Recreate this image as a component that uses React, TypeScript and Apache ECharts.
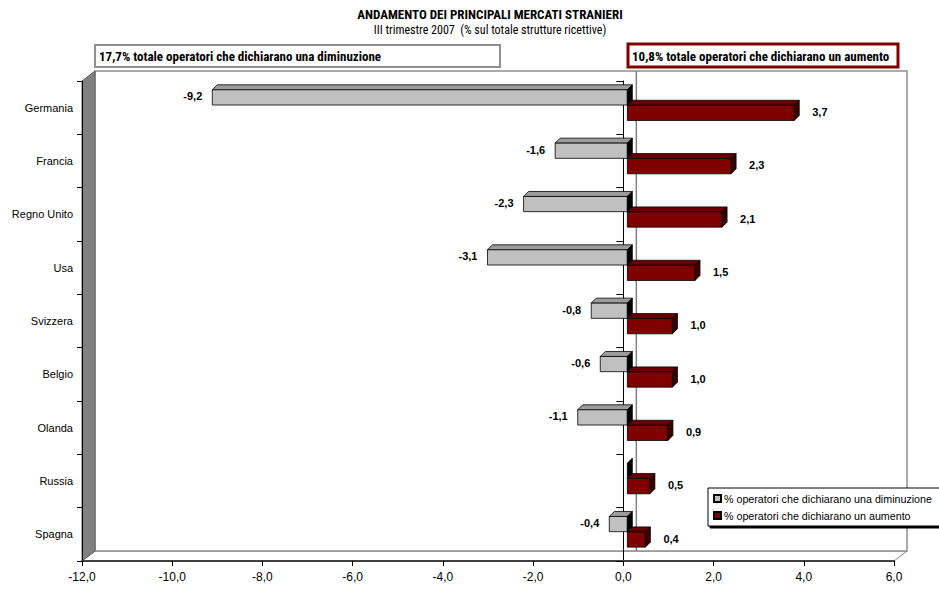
import React, { useEffect, useRef } from 'react';
import * as echarts from 'echarts';

const categories = ['Germania', 'Francia', 'Regno Unito', 'Usa', 'Svizzera', 'Belgio', 'Olanda', 'Russia', 'Spagna'];
const decreaseValues = [-9.2, -1.6, -2.3, -3.1, -0.8, -0.6, -1.1, 0, -0.4];
const increaseValues = [3.7, 2.3, 2.1, 1.5, 1.0, 1.0, 0.9, 0.5, 0.4];
const xMin = -12;
const xMax = 6;
const xInterval = 2;

const titleText = 'ANDAMENTO DEI PRINCIPALI MERCATI STRANIERI';
const subtitleText = 'III trimestre 2007  (% sul totale strutture ricettive)';
const decreaseBoxText = '17,7% totale operatori che dichiarano una diminuzione';
const increaseBoxText = '10,8% totale operatori che dichiarano un aumento';
const decreaseName = '% operatori che dichiarano una diminuzione';
const increaseName = '% operatori che dichiarano un aumento';

const NARROW = 'Liberation Sans Narrow, Arial Narrow, Roboto Condensed, sans-serif';
const SANS = 'Liberation Sans, Arial, sans-serif';

const fmt = (v: number) => v.toFixed(1).replace('.', ',');

const BAR_D = 5; // bar depth
const WALL_DX = 13;
const WALL_DY = -10;

function makeRender(kind: 'dec' | 'inc') {
  const colors =
    kind === 'dec'
      ? { front: '#C0C0C0', top: '#9C9C9C', side: '#000000' }
      : { front: '#800000', top: '#660000', side: '#3A0000' };
  return (params: any, api: any) => {
    const idx = api.value(0);
    const v = api.value(1);
    const zero = api.coord([0, idx]);
    const end = api.coord([v, idx]);
    const band = api.size([0, 1])[1];
    const h = band * 0.285;
    const shift = 4;
    const x0 = zero[0] + shift;
    const x1 = end[0] + shift;
    const c = zero[1];
    const top = kind === 'dec' ? c - band * 0.335 : c - band * 0.045;
    const left = Math.min(x0, x1);
    const right = Math.max(x0, x1);
    const w = right - left;
    const d = BAR_D;
    const children: any[] = [];
    if (w > 0) {
      children.push({
        type: 'polygon',
        shape: { points: [[left, top], [left + d, top - d], [right + d, top - d], [right, top]] },
        style: { fill: colors.top, stroke: '#000', lineWidth: 0.8 },
      });
      children.push({
        type: 'rect',
        shape: { x: left, y: top, width: w, height: h },
        style: { fill: colors.front, stroke: '#000', lineWidth: 0.8 },
      });
    }
    children.push({
      type: 'polygon',
      shape: { points: [[right, top], [right + d, top - d], [right + d, top + h - d], [right, top + h]] },
      style: { fill: colors.side, stroke: '#000', lineWidth: 0.8 },
    });
    if (v !== 0) {
      const isDec = kind === 'dec';
      children.push({
        type: 'text',
        style: {
          x: isDec ? left - 10 : right + d + 13,
          y: top + h / 2 - 1,
          text: fmt(v),
          fill: '#000',
          fontFamily: SANS,
          fontSize: 11,
          fontWeight: 'bold',
          align: isDec ? 'right' : 'left',
          verticalAlign: 'middle',
          textAlign: isDec ? 'right' : 'left',
          textVerticalAlign: 'middle',
        },
      });
    }
    return { type: 'group', children };
  };
}

function txt(x: number, y: number, text: string, size: number, bold: boolean, family: string, align: string) {
  return {
    type: 'text',
    z: 11,
    style: {
      x,
      y,
      text,
      fill: '#000',
      fontFamily: family,
      fontSize: size,
      fontWeight: bold ? 'bold' : 'normal',
      align,
      verticalAlign: 'middle',
      textAlign: align,
      textVerticalAlign: 'middle',
    },
  };
}

export default function App() {
  const ref = useRef<HTMLDivElement>(null);
  useEffect(() => {
    document.body.style.margin = '0';
    if (!ref.current) return;
    const chart = echarts.init(ref.current, undefined, { renderer: 'svg' });
    const option: any = {
      animation: false,
      backgroundColor: '#fff',
      grid: { left: 82, right: 45, top: 81, bottom: 31 },
      legend: {
        data: [decreaseName, increaseName],
        orient: 'vertical',
        left: 708,
        top: 488,
        icon: 'rect',
        itemWidth: 7,
        itemHeight: 7,
        itemGap: 6,
        backgroundColor: '#fff',
        borderColor: '#000',
        borderWidth: 1,
        padding: [5, 20, 5, 5],
        shadowColor: '#000',
        shadowOffsetX: 2,
        shadowOffsetY: 2,
        shadowBlur: 0,
        textStyle: { fontSize: 10.7, fontFamily: SANS, color: '#000', padding: [0, 0, 0, -2] },
        z: 20,
      },
      xAxis: {
        type: 'value',
        min: xMin,
        max: xMax,
        interval: xInterval,
        axisLine: { show: true, onZero: false, lineStyle: { color: '#404040', width: 2 } },
        axisTick: { show: true, length: 5, lineStyle: { color: '#000' } },
        axisLabel: { formatter: (v: number) => fmt(v), fontSize: 12, fontFamily: SANS, color: '#000', margin: 10 },
        splitLine: { show: false },
      },
      yAxis: [
        {
          type: 'category',
          data: categories,
          inverse: true,
          position: 'left',
          axisLine: { show: true, onZero: false, lineStyle: { color: '#000', width: 1 } },
          axisTick: { show: true, length: 5, lineStyle: { color: '#000' } },
          axisLabel: { fontSize: 11, fontFamily: SANS, color: '#000', margin: 9 },
        },
        {
          type: 'category',
          data: categories,
          inverse: true,
          position: 'left',
          axisLine: { show: true, onZero: true, lineStyle: { color: '#000', width: 1 } },
          axisTick: { show: true, length: 7, lineStyle: { color: '#000' } },
          axisLabel: { show: false },
        },
      ],
      series: [
        {
          name: increaseName,
          type: 'custom',
          renderItem: makeRender('inc'),
          encode: { x: 1, y: 0 },
          yAxisIndex: 0,
          itemStyle: { color: '#800000', borderColor: '#000', borderWidth: 1 },
          data: increaseValues.map((v, i) => [i, v]),
          z: 3,
        },
        {
          name: decreaseName,
          type: 'custom',
          renderItem: makeRender('dec'),
          encode: { x: 1, y: 0 },
          yAxisIndex: 0,
          itemStyle: { color: '#C0C0C0', borderColor: '#000', borderWidth: 1 },
          data: decreaseValues.map((v, i) => [i, v]),
          z: 4,
        },
      ],
    };
    chart.setOption(option);

    const L = chart.convertToPixel({ xAxisIndex: 0 }, xMin) as number;
    const R = chart.convertToPixel({ xAxisIndex: 0 }, xMax) as number;
    const Z = chart.convertToPixel({ xAxisIndex: 0 }, 0) as number;
    const c0 = chart.convertToPixel({ yAxisIndex: 0 }, 0) as number;
    const c1 = chart.convertToPixel({ yAxisIndex: 0 }, 1) as number;
    const cN = chart.convertToPixel({ yAxisIndex: 0 }, categories.length - 1) as number;
    const band = c1 - c0;
    const T = c0 - band / 2;
    const B = cN + band / 2;
    const dx = WALL_DX;
    const dy = WALL_DY;

    chart.setOption({
      graphic: [
        {
          type: 'polygon',
          z: -10,
          shape: { points: [[L + dx, B + dy], [R + dx, B + dy], [R, B], [L, B]] },
          style: { fill: '#fff', stroke: '#808080', lineWidth: 1 },
        },
        {
          type: 'rect',
          z: -10,
          shape: { x: L + dx, y: T + dy, width: R - L, height: B - T },
          style: { fill: '#fff', stroke: '#909090', lineWidth: 1.5 },
        },
        {
          type: 'polygon',
          z: -9,
          shape: { points: [[L, T], [L + dx, T + dy], [L + dx, B + dy], [L, B]] },
          style: { fill: '#808080', stroke: '#606060', lineWidth: 1 },
        },
        {
          type: 'line',
          z: -9,
          shape: { x1: Z + dx, y1: T + dy, x2: Z + dx, y2: B + dy },
          style: { stroke: '#808080', lineWidth: 1.5 },
        },
        txt(490, 14, titleText, 13, true, NARROW, 'center'),
        txt(490, 30, subtitleText, 12, false, NARROW, 'center'),
        {
          type: 'rect',
          z: 10,
          shape: { x: 95, y: 45, width: 405, height: 22 },
          style: { fill: '#fff', stroke: '#909090', lineWidth: 2 },
        },
        txt(99, 56, decreaseBoxText, 13, true, NARROW, 'left'),
        {
          type: 'rect',
          z: 10,
          shape: { x: 628, y: 44, width: 270, height: 23 },
          style: { fill: '#fff', stroke: '#800000', lineWidth: 3 },
        },
        txt(632, 56, increaseBoxText, 13, true, NARROW, 'left'),
      ],
    });

    return () => {
      chart.dispose();
    };
  }, []);
  return <div ref={ref} style={{ width: 939, height: 592 }} />;
}
